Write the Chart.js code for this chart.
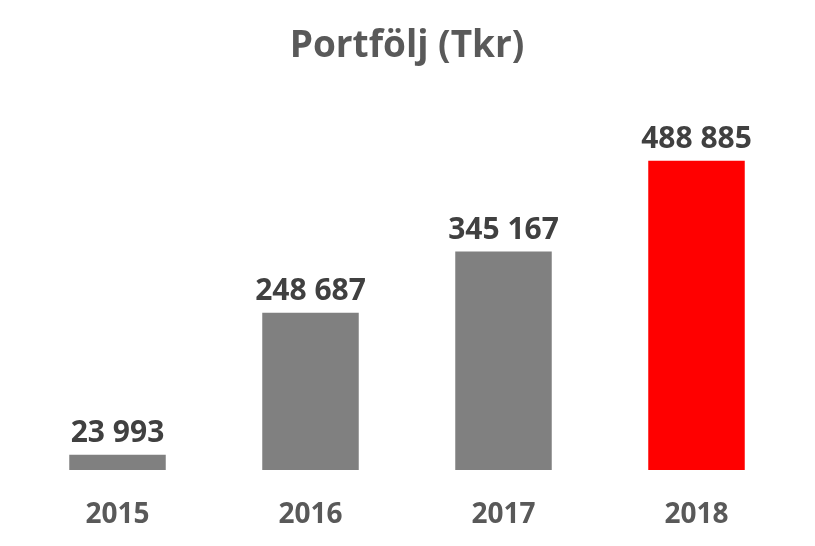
<!DOCTYPE html>
<html><head><meta charset="utf-8">
<script src="https://cdn.jsdelivr.net/npm/chart.js@4"></script>
<style>html,body{margin:0;padding:0;background:#fff}#w{width:815px;height:546px}</style>
</head><body><div id="w"><canvas id="c"></canvas></div>
<script>
const categories = ["2015","2016","2017","2018"];
const values = [23993, 248687, 345167, 488885];
const valueLabels = ["23 993","248 687","345 167","488 885"];
const colors = ["#808080","#808080","#808080","#FF0000"];

const labelPlugin = {
  id: 'vals',
  afterDatasetsDraw(chart) {
    const ctx = chart.ctx;
    const meta = chart.getDatasetMeta(0);
    const xs = chart.scales.x;
    ctx.save();
    ctx.font = 'bold 30px "Open Sans"';
    ctx.fillStyle = '#404040';
    ctx.textAlign = 'center';
    ctx.textBaseline = 'bottom';
    meta.data.forEach((b, i) => ctx.fillText(valueLabels[i], b.x, b.y - 6));
    ctx.font = 'bold 28px "Open Sans"';
    ctx.fillStyle = '#595959';
    ctx.textBaseline = 'middle';
    categories.forEach((c, i) => ctx.fillText(c, xs.getPixelForValue(i), chart.chartArea.bottom + 45));
    ctx.restore();
  }
};

new Chart(document.getElementById('c'), {
  type: 'bar',
  data: { labels: categories, datasets: [{ data: values, backgroundColor: colors, categoryPercentage: 1, barPercentage: 0.5 }] },
  options: {
    responsive: true, maintainAspectRatio: false, animation: false,
    layout: { padding: { left: 21, right: 22, top: 0, bottom: 76 } },
    plugins: {
      legend: { display: false }, tooltip: { enabled: false },
      title: { display: true, text: 'Portfölj (Tkr)', color: '#595959', font: { family: 'Open Sans', size: 37, weight: 'bold' }, padding: { top: 24, bottom: 22 } }
    },
    scales: {
      y: { display: false, min: 0, max: 600000 },
      x: { display: false }
    }
  },
  plugins: [labelPlugin]
});
</script></body></html>
